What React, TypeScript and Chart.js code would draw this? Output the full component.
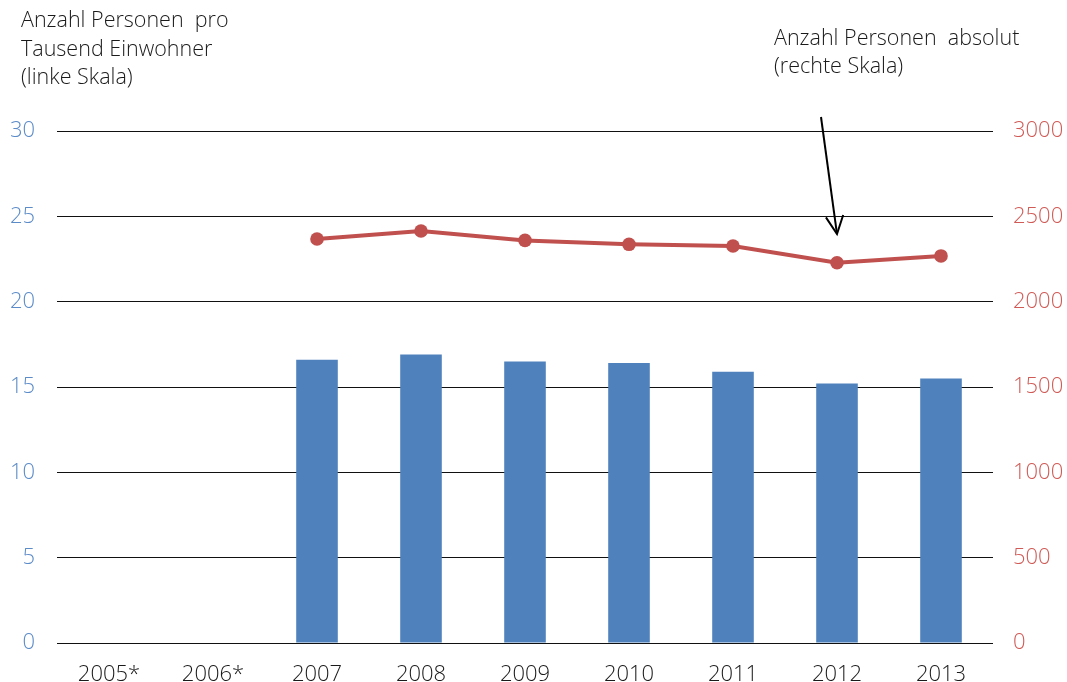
import React, { useEffect, useRef } from "react";
import { Chart, registerables } from "chart.js";

Chart.register(...registerables);

const years = ["2005*", "2006*", "2007", "2008", "2009", "2010", "2011", "2012", "2013"];
const perThousand = [null, null, 16.6, 16.9, 16.5, 16.4, 15.9, 15.2, 15.5];
const absolute = [null, null, 2367, 2414, 2359, 2336, 2326, 2228, 2268];
const leftTicks = [0, 5, 10, 15, 20, 25, 30];
const rightTicks = [0, 500, 1000, 1500, 2000, 2500, 3000];

const leftTitle = ["Anzahl Personen  pro", "Tausend Einwohner", "(linke Skala)"];
const rightTitle = ["Anzahl Personen  absolut", "(rechte Skala)"];

// Arrow pointing at the 2012 value on the right-hand scale
const arrowYear = "2012";
const arrowFrom = 3082;
const arrowTo = 2396;

const FONT = "'Open Sans', Roboto, 'Liberation Sans', sans-serif";

const annotations = {
  id: "annotations",
  afterDraw(chart: any) {
    const ctx = chart.ctx;
    ctx.save();
    ctx.fillStyle = "#1a1a1a";
    ctx.font = `300 21.5px ${FONT}`;
    ctx.textBaseline = "middle";
    ctx.textAlign = "left";
    leftTitle.forEach((t, i) => ctx.fillText(t, 21, 21 + i * 28.6));
    rightTitle.forEach((t, i) => ctx.fillText(t, 774, 38.5 + i * 28.6));

    const x = chart.scales.x;
    const y1 = chart.scales.y1;
    const tx = x.getPixelForValue(years.indexOf(arrowYear));
    const ty = y1.getPixelForValue(arrowTo);
    const sx = tx - 16;
    const sy = y1.getPixelForValue(arrowFrom);
    ctx.strokeStyle = "#000";
    ctx.lineWidth = 2;
    ctx.beginPath();
    ctx.moveTo(sx, sy);
    ctx.lineTo(tx, ty);
    ctx.stroke();
    const ang = Math.atan2(ty - sy, tx - sx);
    const len = 20;
    const spread = 0.45;
    ctx.beginPath();
    ctx.moveTo(tx - len * Math.cos(ang - spread), ty - len * Math.sin(ang - spread));
    ctx.lineTo(tx, ty);
    ctx.lineTo(tx - len * Math.cos(ang + spread), ty - len * Math.sin(ang + spread));
    ctx.stroke();
    ctx.restore();
  },
};

export default function App() {
  const ref = useRef<HTMLCanvasElement>(null);

  useEffect(() => {
    if (!ref.current) return;
    const tickFont = { family: FONT, size: 22, weight: 300 as any };
    const chart = new Chart(ref.current, {
      type: "bar",
      data: {
        labels: years,
        datasets: [
          {
            type: "line",
            label: "absolut",
            data: absolute,
            yAxisID: "y1",
            borderColor: "#c0504d",
            backgroundColor: "#c0504d",
            borderWidth: 4,
            pointRadius: 6.8,
            pointBackgroundColor: "#c0504d",
            pointBorderWidth: 0,
            order: 0,
          } as any,
          {
            type: "bar",
            label: "pro Tausend",
            data: perThousand,
            yAxisID: "y",
            backgroundColor: "#4f81bd",
            barPercentage: 0.4,
            categoryPercentage: 1,
            order: 1,
          },
        ],
      },
      options: {
        responsive: false,
        animation: false,
        events: [],
        layout: { padding: { top: 131, left: 0, right: 0, bottom: 0 } },
        plugins: { legend: { display: false }, tooltip: { enabled: false } },
        scales: {
          x: {
            offset: true,
            grid: { display: false, drawTicks: false },
            border: { display: false },
            ticks: { color: "#1a1a1a", font: tickFont, padding: 19, maxRotation: 0, autoSkip: false },
            afterFit: (s: any) => {
              s.height = 39;
            },
          },
          y: {
            position: "left",
            min: 0,
            max: 30,
            afterBuildTicks: (s: any) => {
              s.ticks = leftTicks.map((v) => ({ value: v }));
            },
            grid: { color: "#111", lineWidth: 1, drawTicks: false },
            border: { display: false },
            ticks: { color: "#5b8bc8", font: tickFont, padding: 22, callback: (v: any) => String(v) },
            afterFit: (s: any) => {
              s.width = 57;
            },
          },
          y1: {
            position: "right",
            min: 0,
            max: 3000,
            afterBuildTicks: (s: any) => {
              s.ticks = rightTicks.map((v) => ({ value: v }));
            },
            grid: { display: false, drawTicks: false },
            border: { display: false },
            ticks: { color: "#d05a55", font: tickFont, padding: 20, callback: (v: any) => String(v) },
            afterFit: (s: any) => {
              s.width = 74;
            },
          },
        },
      },
      plugins: [annotations],
    });
    return () => chart.destroy();
  }, []);

  return (
    <div style={{ position: "absolute", left: 0, top: 0, width: 1067, height: 682, background: "#fff" }}>
      <canvas ref={ref} width={1067} height={682} style={{ display: "block" }} />
    </div>
  );
}
